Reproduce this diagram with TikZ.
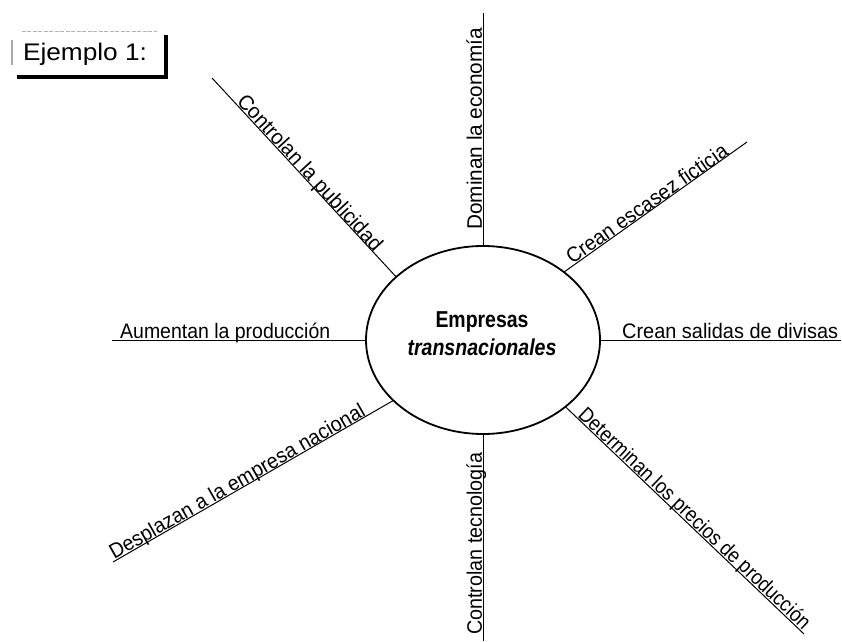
\documentclass[tikz,border=0pt]{standalone}
\usepackage{fontspec}
\usepackage{graphicx}
\setmainfont{Liberation Sans}
\usetikzlibrary{shapes.geometric,calc}

% stretch or squeeze a text horizontally to a given width, height unchanged
\newcommand{\fitw}[2]{\resizebox{#1}{\height}{#2}}

\tikzset{
  spoke/.style={line width=1pt},
  lbl/.style={inner sep=0pt, anchor=base west, font=\fontsize{21}{25}\selectfont},
  hubtext/.style={inner sep=0pt, anchor=base, font=\bfseries\fontsize{23}{27}\selectfont},
}

\begin{document}
\begin{tikzpicture}[x=1pt,y=1pt]
\useasboundingbox (0,0) rectangle (842,641);

% central ellipse
\node[draw, ellipse, line width=1.8pt, minimum width=234pt, minimum height=188pt,
      inner sep=0pt, outer sep=0pt] (hub) at (483,301) {};
\node[hubtext] (hubA) at (482,314) {\fitw{93pt}{Empresas}};
\node[hubtext, font=\bfseries\itshape\fontsize{23}{27}\selectfont] (hubB) at (482,286) {\fitw{149pt}{transnacionales}};

% free ends of the spokes
\coordinate (pTop) at (483,628);
\coordinate (pBot) at (483,0);
\coordinate (pL)   at (112,301);
\coordinate (pR)   at (841,301);
\coordinate (pUL)  at (212,563);
\coordinate (pUR)  at (747,499);
\coordinate (pLL)  at (113,79);
\coordinate (pLR)  at (804,7);

% spokes
\draw[spoke] (hub.north)  -- (pTop);
\draw[spoke] (hub.south)  -- (pBot);
\draw[spoke] (hub.west)   -- (pL);
\draw[spoke] (hub.east)   -- (pR);
\draw[spoke] (hub.144.8)  -- (pUL);
\draw[spoke] (hub.40.5)   -- (pUR);
\draw[spoke] (hub.214.6)  -- (pLL);
\draw[spoke] (hub.321)    -- (pLR);

% spoke labels
\node[lbl, rotate=90] (lTop) at ($(hub.north)!16pt!(pTop) + (180:1.2pt)$) {\fitw{202pt}{Dominan la economía}};
\node[lbl, rotate=90] (lBot) at ($(pBot)!6pt!(hub.south) + (180:1.2pt)$) {\fitw{182pt}{Controlan tecnología}};
\node[lbl] (lL) at ($(pL)!8pt!(hub.west) + (90:1.2pt)$) {\fitw{210pt}{Aumentan la producción}};
\node[lbl] (lR) at ($(hub.east)!22pt!(pR) + (90:1.2pt)$) {\fitw{216pt}{Crean salidas de divisas}};
\node[lbl, rotate=-47.5] (lUL) at ($(pUL)!34pt!(hub.144.8) + (42.5:1.2pt)$) {\fitw{204pt}{Controlan la publicidad}};
\node[lbl, rotate=35] (lUR) at ($(hub.40.5)!11pt!(pUR) + (125:1.2pt)$) {\fitw{192pt}{Crean escasez ficticia}};
\node[lbl, rotate=29.8] (lLL) at ($(pLL)!2pt!(hub.214.6) + (119.8:1.2pt)$) {\fitw{291pt}{Desplazan a la empresa nacional}};
\node[lbl, rotate=-43.5] (lLR) at ($(hub.321)!15pt!(pLR) + (46.5:1.2pt)$) {\fitw{311pt}{Determinan los precios de producción}};

% "Ejemplo 1:" tag with its shadowed frame
\node[inner sep=0pt, minimum width=153pt, minimum height=43pt] (tag) at (88.5,586.5) {};
\node[inner sep=0pt, anchor=base, font=\fontsize{24}{28}\selectfont] (tagtext) at (85,580) {\fitw{124pt}{Ejemplo 1:}};
\draw[gray!60, line width=1pt, dash pattern=on 4pt off 1.5pt] ($(tag.north west)+(10,1)$) -- ($(tag.north east)+(-8,1)$);
\draw[gray!70, line width=2pt] ($(tag.north west)+(0,-7)$) -- ($(tag.south west)+(0,11)$);
\draw[line width=4pt] ($(tag.south west)+(5,-1)$) -- ($(tag.south east)+(3,-1)$);
\draw[line width=3.5pt] ($(tag.north east)+(1,-2)$) -- ($(tag.south east)+(1,-3)$);
\end{tikzpicture}
\end{document}
